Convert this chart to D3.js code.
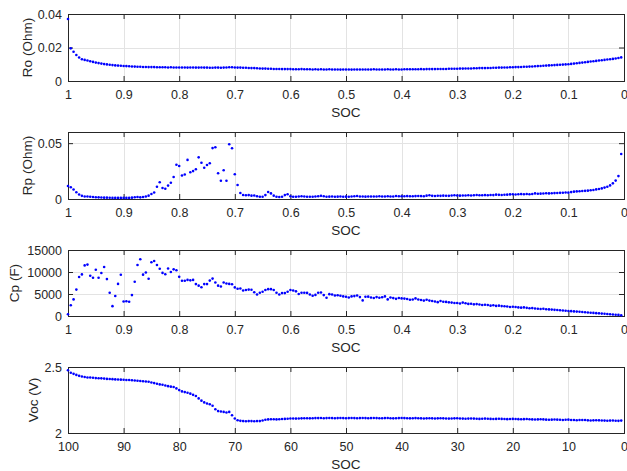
<!DOCTYPE html>
<html><head><meta charset="utf-8">
<script src="https://cdn.jsdelivr.net/npm/d3@7"></script>
<style>
body{margin:0;background:#fff}
svg text{font-family:"Liberation Sans",Arial,Helvetica,sans-serif;fill:#262626}
</style>
</head><body><svg id="c" width="627" height="471"></svg>
<script>
// sampling grid (state of charge, step 0.005 from 1 down to 0.005)
const soc = d3.range(200).map(i => +(1 - 0.005 * i).toFixed(3));
const socPct = soc.map(s => +(s * 100).toFixed(1));

const ro = [
0.037,0.0195,0.0175,0.0155,0.014,0.013,0.0126,0.0122,0.0118,0.0114,
0.011,0.0107,0.0104,0.0101,0.0099,0.0097,0.0095,0.0093,0.0092,0.0091,
0.009,0.0089,0.0088,0.0087,0.0086,0.0085,0.0085,0.0084,0.0084,0.0083,
0.0083,0.0083,0.0082,0.0082,0.0082,0.0082,0.0081,0.0082,0.0081,0.0081,
0.0081,0.0081,0.0081,0.008,0.0081,0.0081,0.008,0.008,0.0081,0.008,
0.008,0.0079,0.0079,0.008,0.008,0.0079,0.008,0.0081,0.0082,0.0082,
0.0081,0.008,0.008,0.0079,0.0079,0.0078,0.0077,0.0077,0.0076,0.0075,
0.0074,0.0074,0.0073,0.0073,0.0072,0.0072,0.0072,0.0071,0.0071,0.0071,
0.0071,0.007,0.007,0.007,0.0071,0.007,0.007,0.007,0.0069,0.007,
0.0069,0.007,0.0069,0.0069,0.007,0.0069,0.0069,0.0069,0.0068,0.0069,
0.0069,0.0069,0.0068,0.0069,0.0069,0.0069,0.0069,0.0069,0.0069,0.0069,
0.007,0.0069,0.0069,0.0069,0.0069,0.007,0.0069,0.0069,0.007,0.0069,
0.0069,0.007,0.007,0.007,0.007,0.007,0.007,0.0071,0.007,0.0071,
0.0071,0.0071,0.0071,0.0072,0.0072,0.0072,0.0072,0.0073,0.0073,0.0073,
0.0073,0.0074,0.0074,0.0075,0.0075,0.0075,0.0076,0.0076,0.0077,0.0077,
0.0077,0.0078,0.0078,0.0079,0.0079,0.008,0.008,0.0081,0.0081,0.0082,
0.0082,0.0083,0.0083,0.0084,0.0085,0.0085,0.0086,0.0087,0.0088,0.0089,
0.009,0.0091,0.0092,0.0093,0.0094,0.0095,0.0096,0.0097,0.0098,0.0099,
0.01,0.0102,0.0104,0.0106,0.0108,0.011,0.0112,0.0114,0.0116,0.0118,
0.012,0.0122,0.0124,0.0126,0.0128,0.013,0.0132,0.0134,0.0137,0.0141];

const rp = [
0.0116,0.0105,0.0085,0.006,0.004,0.0028,0.0022,0.0022,0.002,0.0018,
0.0016,0.0015,0.0013,0.0012,0.0012,0.0011,0.001,0.001,0.001,0.001,
0.001,0.001,0.001,0.0012,0.0016,0.0018,0.0015,0.0018,0.0022,0.003,
0.0045,0.0058,0.011,0.015,0.0098,0.0092,0.012,0.0146,0.0197,0.0307,
0.0295,0.021,0.022,0.035,0.024,0.025,0.0266,0.0373,0.0325,0.028,
0.0304,0.032,0.0456,0.0463,0.023,0.0164,0.0257,0.0164,0.049,0.0454,
0.0221,0.0125,0.0054,0.0036,0.0033,0.0035,0.003,0.0032,0.0025,0.002,
0.002,0.0035,0.0063,0.005,0.003,0.002,0.0018,0.002,0.0035,0.0042,
0.0025,0.002,0.002,0.0022,0.0025,0.0022,0.002,0.002,0.002,0.0022,
0.0025,0.0028,0.0024,0.002,0.0021,0.0022,0.002,0.0021,0.0022,0.002,
0.0021,0.002,0.0022,0.0024,0.0027,0.0023,0.0022,0.0021,0.0022,0.0023,
0.0022,0.0023,0.0024,0.0022,0.0023,0.0024,0.0022,0.0023,0.0027,0.0025,
0.0024,0.0025,0.0026,0.0025,0.0024,0.0026,0.0027,0.0026,0.0025,0.003,
0.0033,0.0028,0.0027,0.0029,0.0028,0.003,0.0029,0.0028,0.0031,0.0033,
0.0031,0.003,0.0032,0.0031,0.0033,0.0032,0.0034,0.0036,0.0033,0.0034,
0.0035,0.0034,0.0036,0.0035,0.0039,0.0037,0.0036,0.0038,0.0039,0.0041,
0.0042,0.004,0.0042,0.0044,0.0043,0.0045,0.0043,0.0045,0.005,0.0047,
0.0048,0.0049,0.0051,0.005,0.0052,0.0053,0.0054,0.0055,0.0056,0.0058,
0.0057,0.0062,0.0066,0.0068,0.0069,0.0071,0.0073,0.0075,0.0078,0.0081,
0.0086,0.009,0.0095,0.0102,0.011,0.0122,0.014,0.0165,0.0205,0.0403];

const cp = [
400,2460,3770,6000,8850,9450,11500,11680,9150,8690,
10500,8690,9770,11150,8390,5300,2240,4540,7300,9380,
3300,3350,3250,4750,7800,11600,12900,9400,9900,8450,
12200,12500,11600,10750,9800,9500,10800,10000,10600,10400,
8900,8000,8000,8200,8100,8200,7250,6900,6550,7250,
7250,8050,8500,7600,6900,6700,7600,7400,7300,7200,
6500,6200,6250,5800,5900,6000,5950,5400,4900,5300,
5500,5900,6100,6100,5900,5300,4900,5200,5200,5500,
5900,5800,5600,5000,5300,5300,5250,4900,4600,4800,
5270,5350,4750,4140,4970,4900,4670,4700,4600,4450,
4370,4220,4450,4520,4670,4300,3540,4370,4400,4220,
4100,4300,4150,4250,4450,3770,4200,4070,3900,4100,
4000,3950,3850,3700,3750,4000,3750,3650,3500,3700,
3500,3400,3300,3150,3400,3250,3200,3100,3050,2950,
2950,2850,3050,2900,2750,2800,2650,2700,2600,2500,
2550,2500,2350,2450,2300,2350,2250,2200,2150,2050,
2100,2050,1950,1900,1950,1850,1750,1800,1700,1650,
1600,1650,1550,1500,1450,1400,1350,1300,1250,1200,
1150,1100,1050,1000,950,900,850,800,750,700,
650,600,550,500,450,400,350,300,250,150];

const voc = [
2.475,2.457,2.448,2.44,2.433,2.428,2.424,2.421,2.42,2.418,
2.416,2.415,2.414,2.412,2.41,2.409,2.408,2.406,2.405,2.404,
2.403,2.402,2.401,2.4,2.398,2.396,2.394,2.392,2.39,2.388,
2.383,2.378,2.373,2.368,2.366,2.36,2.355,2.351,2.348,2.338,
2.325,2.315,2.31,2.305,2.298,2.289,2.28,2.262,2.245,2.232,
2.224,2.218,2.206,2.18,2.166,2.163,2.16,2.155,2.16,2.135,
2.11,2.097,2.092,2.09,2.089,2.09,2.09,2.089,2.09,2.09,
2.095,2.1,2.103,2.104,2.104,2.103,2.104,2.106,2.107,2.108,
2.11,2.11,2.109,2.11,2.111,2.112,2.112,2.111,2.112,2.113,
2.113,2.114,2.112,2.113,2.114,2.113,2.112,2.113,2.114,2.113,
2.112,2.113,2.114,2.113,2.112,2.113,2.114,2.113,2.112,2.113,
2.114,2.113,2.112,2.112,2.113,2.114,2.112,2.111,2.112,2.113,
2.114,2.113,2.112,2.111,2.112,2.113,2.112,2.111,2.11,2.111,
2.112,2.111,2.11,2.111,2.112,2.111,2.11,2.109,2.11,2.111,
2.112,2.11,2.109,2.108,2.109,2.11,2.109,2.108,2.107,2.108,
2.109,2.108,2.107,2.106,2.107,2.108,2.107,2.106,2.105,2.106,
2.107,2.106,2.105,2.104,2.105,2.106,2.104,2.103,2.102,2.103,
2.104,2.103,2.101,2.1,2.101,2.102,2.101,2.1,2.099,2.1,
2.101,2.099,2.098,2.097,2.098,2.099,2.098,2.096,2.095,2.096,
2.097,2.096,2.095,2.094,2.093,2.094,2.095,2.093,2.092,2.094];

const socTicks = [1,0.9,0.8,0.7,0.6,0.5,0.4,0.3,0.2,0.1,0];
const pctTicks = [100,90,80,70,60,50,40,30,20,10,0];
const roTicks = [0,0.02,0.04];
const rpTicks = [0,0.05];
const cpTicks = [0,5000,10000,15000];
const vocTicks = [2,2.5];
const yLabels = ["Ro (Ohm)","Rp (Ohm)","Cp (F)","Voc (V)"];
const xLabel = "SOC";

const TICK_FS = "12.5px", LABEL_FS = "13.5px";
const svg = d3.select("#c");
const L = 68, R = 624;
const panels = [
  {x: soc,    y: ro,  xd:[1,0],   yd:[0,0.04],    xt: socTicks, yt: roTicks,  top:14,  bot:81,  lx:27, lab:yLabels[0]},
  {x: soc,    y: rp,  xd:[1,0],   yd:[0,0.06],    xt: socTicks, yt: rpTicks,  top:132, bot:199, lx:27, lab:yLabels[1]},
  {x: soc,    y: cp,  xd:[1,0],   yd:[0,15000],   xt: socTicks, yt: cpTicks,  top:250, bot:316, lx:14, lab:yLabels[2]},
  {x: socPct, y: voc, xd:[100,0], yd:[2,2.5],     xt: pctTicks, yt: vocTicks, top:367, bot:433, lx:33, lab:yLabels[3]}
];

panels.forEach(p => {
  const xs = d3.scaleLinear().domain(p.xd).range([L, R]);
  const ys = d3.scaleLinear().domain(p.yd).range([p.bot, p.top]);
  const g = svg.append("g");
  // grid
  g.selectAll(".vg").data(p.xt).join("line")
    .attr("x1", d => Math.round(xs(d)) + 0.5).attr("x2", d => Math.round(xs(d)) + 0.5)
    .attr("y1", p.top).attr("y2", p.bot).attr("stroke", "#e3e3e3").attr("stroke-width", 1);
  g.selectAll(".hg").data(p.yt).join("line")
    .attr("y1", d => Math.round(ys(d)) + 0.5).attr("y2", d => Math.round(ys(d)) + 0.5)
    .attr("x1", L).attr("x2", R).attr("stroke", "#e3e3e3").attr("stroke-width", 1);

  const fmt = d => String(d);
  const styleAxis = sel => {
    sel.select(".domain").remove();
    sel.attr("font-family", null).attr("font-size", null);
    sel.selectAll(".tick line").attr("stroke", "#262626");
    sel.selectAll(".tick text").attr("fill", "#262626").style("font-size", TICK_FS);
  };
  g.append("g").attr("transform", `translate(0,${p.bot})`)
    .call(d3.axisBottom(xs).tickValues(p.xt).tickFormat(fmt).tickSize(-5).tickPadding(9.5)).call(styleAxis);
  g.append("g").attr("transform", `translate(0,${p.top})`)
    .call(d3.axisTop(xs).tickValues(p.xt).tickFormat("").tickSize(-5)).call(styleAxis);
  g.append("g").attr("transform", `translate(${L},0)`)
    .call(d3.axisLeft(ys).tickValues(p.yt).tickFormat(fmt).tickSize(-5).tickPadding(6)).call(styleAxis);
  g.append("g").attr("transform", `translate(${R},0)`)
    .call(d3.axisRight(ys).tickValues(p.yt).tickFormat("").tickSize(-5)).call(styleAxis);

  // box
  g.append("rect").attr("x", L + 0.5).attr("y", p.top + 0.5)
    .attr("width", R - L).attr("height", p.bot - p.top)
    .attr("fill", "none").attr("stroke", "#262626").attr("stroke-width", 1);

  // points
  g.append("g").selectAll("circle").data(p.y).join("circle")
    .attr("cx", (d, i) => xs(p.x[i])).attr("cy", d => ys(d))
    .attr("r", 1.3).attr("fill", "#0000ff");

  // labels
  svg.append("text").attr("x", (L + R) / 2).attr("y", p.bot + 35.5)
    .attr("text-anchor", "middle").style("font-size", LABEL_FS).text(xLabel);
  svg.append("text").attr("transform", `translate(${p.lx},${(p.top + p.bot) / 2}) rotate(-90)`)
    .attr("text-anchor", "middle").attr("dy", "0.35em").style("font-size", LABEL_FS).text(p.lab);
});
</script>
</body></html>
